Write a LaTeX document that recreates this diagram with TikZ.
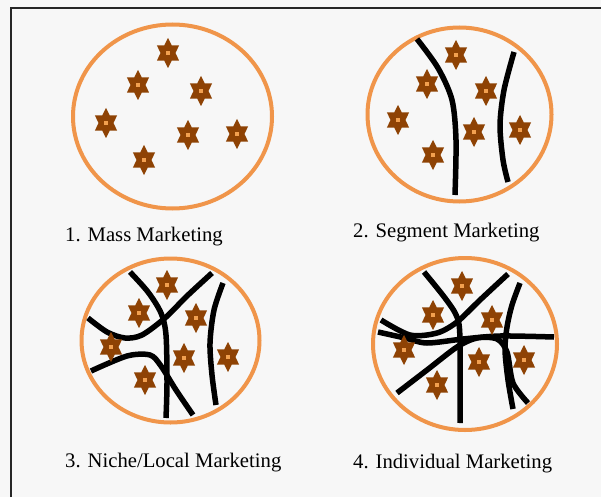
\documentclass[tikz,border=0pt]{standalone}
\usepackage{fontspec}
\setmainfont{Liberation Serif}
\usetikzlibrary{shapes.geometric}

\definecolor{ringorange}{HTML}{F0954A}
\definecolor{starbrown}{HTML}{8E4204}
\definecolor{starcore}{HTML}{F2A050}
\definecolor{paper}{HTML}{F7F7F7}

\tikzset{
  ring/.style={draw=ringorange,line width=4pt},
  cut/.style={draw=black,line width=5.5pt},
  seed/.style={star,star points=6,star point ratio=1.7,fill=starbrown,
    inner sep=0pt,minimum size=30pt,xscale=0.85,
    path picture={\fill[starcore] ([xshift=-2pt,yshift=-2pt]path picture bounding box.center)
      rectangle ([xshift=2pt,yshift=2pt]path picture bounding box.center);}},
  caption/.style={anchor=base west,inner sep=0pt,font=\fontsize{20.7}{25}\selectfont}
}

\begin{document}
\begin{tikzpicture}[x=1pt,y=-1pt]
  \fill[paper] (0,0) rectangle (601,497);
  \useasboundingbox (0,0) rectangle (601,497);
  \draw[line width=1.5pt,black!85] (11,497) |- (601,8);

  % 1. mass
  \draw[ring] (172.5,116.5) ellipse [x radius=99.5,y radius=92];
  \node[seed] (m1) at (168,53) {};
  \node[seed] (m2) at (138,85) {};
  \node[seed] (m3) at (201,91) {};
  \node[seed] (m4) at (106,123) {};
  \node[seed] (m5) at (188,135) {};
  \node[seed] (m6) at (237,134) {};
  \node[seed] (m7) at (144,160) {};
  \node[caption] (mass) at (65,241) {1. Mass Marketing};

  % 2. segment
  \draw[ring] (459.5,114.5) ellipse [x radius=92,y radius=87];
  \draw[cut] plot[smooth] coordinates {(417,39) (438,68) (452,100) (456,140) (455,195)};
  \draw[cut] plot[smooth] coordinates {(514,52) (504,90) (500,125) (503,160) (508,182)};
  \node[seed] (s1) at (456,55) {};
  \node[seed] (s2) at (427,84) {};
  \node[seed] (s3) at (486,91) {};
  \node[seed] (s4) at (398,120) {};
  \node[seed] (s5) at (474,132) {};
  \node[seed] (s6) at (520,130) {};
  \node[seed] (s7) at (433,155) {};
  \node[caption] (segment) at (353,237) {2. Segment Marketing};

  % 3. niche / local
  \draw[ring] (170.5,340.5) ellipse [x radius=89,y radius=82];
  \draw[cut] plot[smooth] coordinates {(130,272) (148,292) (161,313) (166,335) (167,383) (166,418)};
  \draw[cut] plot[smooth] coordinates {(212,273) (187,296) (165,318) (142,335) (125,338) (107,332) (88,318)};
  \draw[cut] plot[smooth] coordinates {(91,371) (127,356) (150,355) (161,366) (176,390) (193,415)};
  \draw[cut] plot[smooth] coordinates {(223,283) (214,310) (210,343) (212,375) (216,405)};
  \node[seed] (n1) at (167,285) {};
  \node[seed] (n2) at (139,313) {};
  \node[seed] (n3) at (196,318) {};
  \node[seed] (n4) at (111,347) {};
  \node[seed] (n5) at (184,358) {};
  \node[seed] (n6) at (228,357) {};
  \node[seed] (n7) at (145,380) {};
  \node[caption] (niche) at (65,467) {3. Niche/Local Marketing};

  % 4. individual
  \draw[ring] (465,344) ellipse [x radius=92,y radius=86];
  \draw[cut] plot[smooth] coordinates {(424,272) (445,298) (457,317) (460,340) (460,423)};
  \draw[cut] plot[smooth] coordinates {(508,274) (480,300) (457,322) (437,333) (410,335) (381,320)};
  \draw[cut] plot[smooth] coordinates {(378,332) (405,338) (427,343) (463,339) (500,336) (554,337)};
  \draw[cut] plot[smooth] coordinates {(397,393) (427,370) (457,347) (477,338) (497,339) (507,352) (513,383) (528,403)};
  \draw[cut] plot[smooth] coordinates {(520,283) (512,305) (507,327) (505,350) (508,380) (513,409)};
  \node[seed] (i1) at (462,286) {};
  \node[seed] (i2) at (433,315) {};
  \node[seed] (i3) at (492,320) {};
  \node[seed] (i4) at (404,350) {};
  \node[seed] (i5) at (479,362) {};
  \node[seed] (i6) at (524,360) {};
  \node[seed] (i7) at (437,385) {};
  \node[caption] (indiv) at (353,468) {4. Individual Marketing};
\end{tikzpicture}
\end{document}
